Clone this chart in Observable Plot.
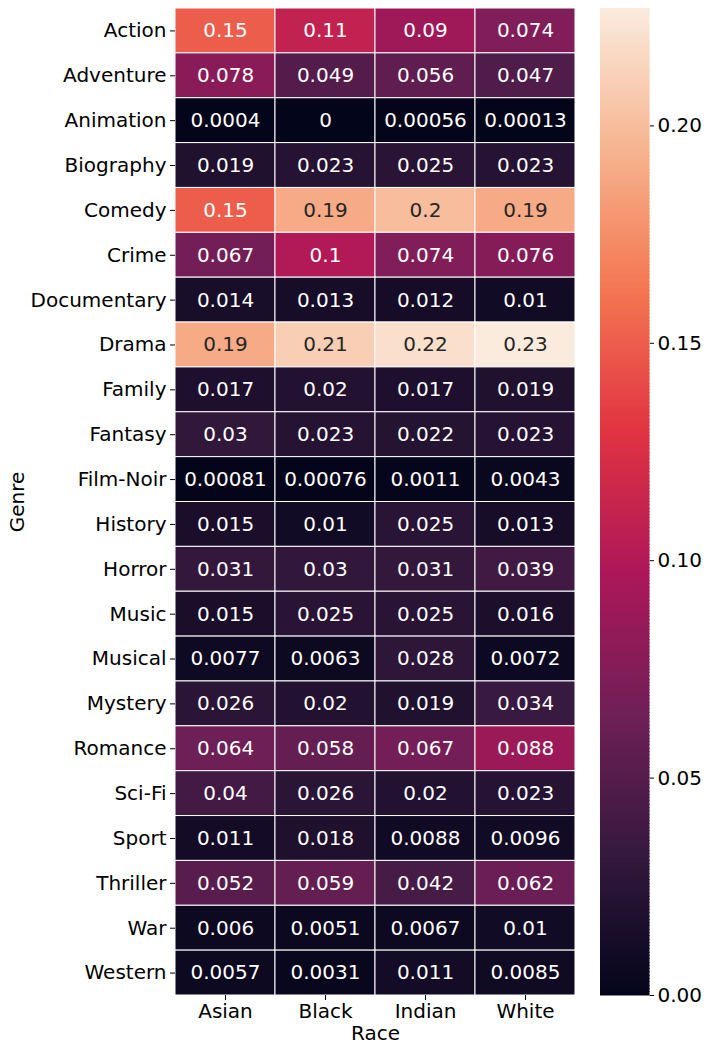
<!DOCTYPE html>
<html>
<head>
<meta charset="utf-8">
<script src="https://cdn.jsdelivr.net/npm/d3@7"></script>
<script src="https://cdn.jsdelivr.net/npm/@observablehq/plot@0.6"></script>
<style>
  html, body { margin: 0; padding: 0; background: white; }
  #wrap { position: relative; width: 708px; height: 1051px; }
  #wrap > svg { position: absolute; left: 0; top: 0; }
</style>
</head>
<body>
<div id="wrap"></div>
<script>
const genres = ["Action","Adventure","Animation","Biography","Comedy","Crime","Documentary","Drama","Family","Fantasy","Film-Noir","History","Horror","Music","Musical","Mystery","Romance","Sci-Fi","Sport","Thriller","War","Western"];
const races = ["Asian","Black","Indian","White"];
const asian  = [0.15, 0.078, 0.0004, 0.019, 0.15, 0.067, 0.014, 0.19, 0.017, 0.03, 0.00081, 0.015, 0.031, 0.015, 0.0077, 0.026, 0.064, 0.04, 0.011, 0.052, 0.006, 0.0057];
const black  = [0.11, 0.049, 0, 0.023, 0.19, 0.1, 0.013, 0.21, 0.02, 0.023, 0.00076, 0.01, 0.03, 0.025, 0.0063, 0.02, 0.058, 0.026, 0.018, 0.059, 0.0051, 0.0031];
const indian = [0.09, 0.056, 0.00056, 0.025, 0.2, 0.074, 0.012, 0.22, 0.017, 0.022, 0.0011, 0.025, 0.031, 0.025, 0.028, 0.019, 0.067, 0.02, 0.0088, 0.042, 0.0067, 0.011];
const white  = [0.074, 0.047, 0.00013, 0.023, 0.19, 0.076, 0.01, 0.23, 0.019, 0.023, 0.0043, 0.013, 0.039, 0.016, 0.0072, 0.034, 0.088, 0.023, 0.0096, 0.062, 0.01, 0.0085];
const colorbarTicks = [0, 0.05, 0.10, 0.15, 0.20];
const vmax = 0.227;

// seaborn "rocket" colormap anchors
const rocket = ["#03051a","#35193e","#701f57","#ad1759","#e13342","#f37651","#f6b48f","#faebdd"];
const stops = rocket.map((_, i) => vmax * i / (rocket.length - 1));

const series = [asian, black, indian, white];
const data = [];
genres.forEach((g, i) => races.forEach((r, j) => data.push({genre: g, race: r, value: series[j][i]})));

const colorFn = d3.scaleLinear().domain(stops).range(rocket).interpolate(d3.interpolateRgb).clamp(true);
function lum(c) {
  const rgb = d3.rgb(c);
  const f = v => { v /= 255; return v <= 0.03928 ? v / 12.92 : Math.pow((v + 0.055) / 1.055, 2.4); };
  return 0.2126 * f(rgb.r) + 0.7152 * f(rgb.g) + 0.0722 * f(rgb.b);
}
const textColor = v => lum(colorFn(v)) > 0.408 ? "#262626" : "white";

const font = {fontSize: "20px", fontFamily: "DejaVu Sans", color: "black", background: "transparent"};
const colorScale = {type: "linear", domain: stops, range: rocket, interpolate: "rgb", clamp: true};

const main = Plot.plot({
  width: 708, height: 1051,
  marginLeft: 175, marginRight: 133, marginTop: 8, marginBottom: 56,
  style: font,
  x: {domain: races, padding: 0, round: false},
  y: {domain: genres, padding: 0, round: false},
  color: colorScale,
  marks: [
    Plot.cell(data, {x: "race", y: "genre", fill: "value", stroke: "white", strokeWidth: 1}),
    Plot.text(data, {x: "race", y: "genre", text: d => String(d.value), fill: d => textColor(d.value), fontSize: 20}),
    Plot.axisX({anchor: "bottom", tickSize: 5, tickPadding: 3, label: "Race", labelAnchor: "center", labelArrow: "none", labelOffset: 44, fontSize: 20}),
    Plot.axisY({anchor: "left", tickSize: 5, tickPadding: 4, label: "Genre", labelAnchor: "center", labelArrow: "none", labelOffset: 166, fontSize: 20})
  ]
});

const nSteps = 300;
const grad = d3.range(nSteps).map(i => ({y1: vmax * i / nSteps, y2: vmax * (i + 1) / nSteps, v: vmax * (i + 0.5) / nSteps}));
const bar = Plot.plot({
  width: 708, height: 1051,
  marginLeft: 600, marginRight: 59, marginTop: 8, marginBottom: 56,
  style: font,
  y: {domain: [0, vmax], label: null},
  color: colorScale,
  marks: [
    Plot.rectY(grad, {y1: "y1", y2: "y2", fill: "v", shapeRendering: "crispEdges", stroke: "v", strokeWidth: 0.5}),
    Plot.axisY({anchor: "right", ticks: colorbarTicks, tickFormat: d3.format(".2f"), tickSize: 4, tickPadding: 4, label: null, fontSize: 20})
  ]
});

const wrap = document.getElementById("wrap");
wrap.appendChild(main);
wrap.appendChild(bar);
</script>
</body>
</html>
